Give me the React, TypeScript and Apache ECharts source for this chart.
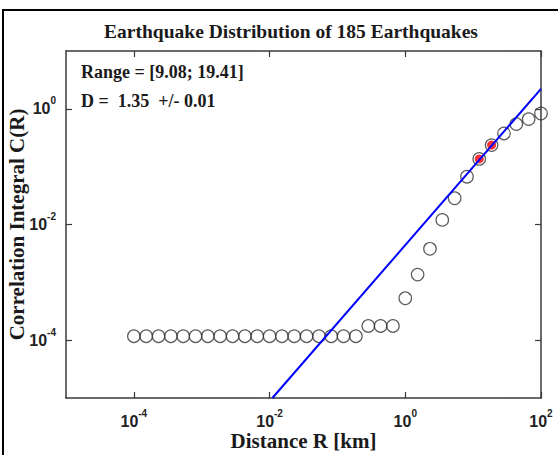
import React, { useEffect, useRef } from "react";
import * as echarts from "echarts";

// Distance R [km] (log-spaced bins)
const R_VALUES = [
  1.0e-4, 1.52e-4, 2.31e-4, 3.51e-4, 5.34e-4, 8.11e-4, 1.23e-3, 1.87e-3,
  2.85e-3, 4.33e-3, 6.58e-3, 1.0e-2, 1.52e-2, 2.31e-2, 3.51e-2, 5.34e-2,
  8.11e-2, 0.123, 0.187, 0.285, 0.433, 0.658, 1.0, 1.52, 2.31, 3.51, 5.34,
  8.11, 12.3, 18.7, 28.5, 43.3, 65.8, 100,
];
// Correlation integral C(R)
const C_VALUES = [
  1.17e-4, 1.17e-4, 1.17e-4, 1.17e-4, 1.17e-4, 1.17e-4, 1.17e-4, 1.17e-4,
  1.17e-4, 1.17e-4, 1.17e-4, 1.17e-4, 1.17e-4, 1.17e-4, 1.17e-4, 1.17e-4,
  1.17e-4, 1.17e-4, 1.17e-4, 1.76e-4, 1.76e-4, 1.76e-4, 5.3e-4, 1.36e-3,
  3.8e-3, 1.2e-2, 2.84e-2, 6.7e-2, 0.136, 0.236, 0.375, 0.545, 0.664, 0.83,
];
// Fitting range [km]
const FIT_RANGE = [9.08, 19.41];
// Fitted power-law line end points
const FIT_LINE_R = [0.011, 100];
const FIT_LINE_C = [1e-5, 2.21];
// Tick labels
const X_TICKS = [1e-4, 1e-2, 1, 100];
const Y_TICKS = [1e-4, 1e-2, 1];

const TITLE = "Earthquake Distribution of 185 Earthquakes";
const RANGE_TEXT = "Range = [9.08; 19.41]";
const D_TEXT = "D =  1.35  +/- 0.01";
const X_NAME = "Distance R [km]";
const Y_NAME = "Correlation Integral C(R)";

const SERIF = "'Liberation Serif', 'Times New Roman', serif";
const SANS = "'Liberation Sans', Arial, sans-serif";

const fmtPow = (v: number) => {
  const e = Math.round(Math.log10(v));
  return `{b|10}{s|${e}}`;
};

const tickRich = {
  b: { fontFamily: SANS, fontWeight: "bold", fontSize: 16, color: "#222" },
  s: {
    fontFamily: SANS,
    fontWeight: "bold",
    fontSize: 10,
    color: "#222",
    padding: [0, 0, 16, 0],
  },
};

const nameStyle = {
  fontFamily: SERIF,
  fontWeight: "bold",
  fontSize: 21,
  color: "#1a1a1a",
};

export default function App() {
  const ref = useRef<HTMLDivElement>(null);
  useEffect(() => {
    if (!ref.current) return;
    const chart = echarts.init(ref.current, undefined, { renderer: "svg" });
    const points = R_VALUES.map((r, i) => [r, C_VALUES[i]]);
    const fitPoints = points.filter(
      (p) => p[0] >= FIT_RANGE[0] && p[0] <= FIT_RANGE[1]
    );
    const line = FIT_LINE_R.map((r, i) => [r, FIT_LINE_C[i]]);
    const frame = { show: true, lineStyle: { color: "#3a3a3a", width: 1.5 } };
    const tick = {
      show: true,
      inside: true,
      length: 6,
      lineStyle: { color: "#3a3a3a", width: 1.2 },
    };
    chart.setOption({
      animation: false,
      backgroundColor: "#fff",
      title: {
        text: TITLE,
        left: 286,
        top: 16,
        textAlign: "center",
        textStyle: {
          fontFamily: SERIF,
          fontWeight: "bold",
          fontSize: 19.5,
          color: "#1a1a1a",
        },
      },
      grid: {
        left: 66,
        top: 51,
        width: 475,
        height: 347,
        containLabel: false,
        outerBoundsMode: "none",
      },
      xAxis: [
        {
          type: "log",
          logBase: 10,
          min: 1e-5,
          max: 100,
          position: "bottom",
          axisLine: frame,
          axisTick: { ...tick, customValues: X_TICKS },
          splitLine: { show: false },
          minorTick: { show: false },
          axisLabel: {
            customValues: X_TICKS,
            formatter: fmtPow,
            rich: tickRich,
            margin: 10,
          },
          name: X_NAME,
          nameLocation: "middle",
          nameGap: 32,
          nameMoveOverlap: false,
          nameTextStyle: nameStyle,
        },
        {
          type: "log",
          logBase: 10,
          min: 1e-5,
          max: 100,
          position: "top",
          axisLine: frame,
          axisTick: { ...tick, customValues: X_TICKS },
          splitLine: { show: false },
          axisLabel: { show: false },
        },
      ],
      yAxis: [
        {
          type: "log",
          logBase: 10,
          min: 1e-5,
          max: 10,
          position: "left",
          axisLine: frame,
          axisTick: { ...tick, customValues: Y_TICKS },
          splitLine: { show: false },
          axisLabel: {
            customValues: Y_TICKS,
            formatter: fmtPow,
            rich: tickRich,
            margin: 10,
          },
          name: Y_NAME,
          nameLocation: "middle",
          nameGap: 39,
          nameMoveOverlap: false,
          nameTextStyle: nameStyle,
        },
        {
          type: "log",
          logBase: 10,
          min: 1e-5,
          max: 10,
          position: "right",
          axisLine: frame,
          axisTick: { ...tick, customValues: Y_TICKS },
          splitLine: { show: false },
          axisLabel: { show: false },
        },
      ],
      graphic: [
        {
          type: "rect",
          shape: { x: 3, y: 10, width: 620, height: 520 },
          style: { fill: "none", stroke: "#000", lineWidth: 2 },
          silent: true,
        },
        {
          type: "text",
          x: 81,
          y: 72,
          style: {
            text: RANGE_TEXT,
            font: `bold 18px ${SERIF}`,
            fill: "#1a1a1a",
            textVerticalAlign: "middle",
          },
        },
        {
          type: "text",
          x: 81,
          y: 101,
          style: {
            text: D_TEXT,
            font: `bold 18px ${SERIF}`,
            fill: "#1a1a1a",
            textVerticalAlign: "middle",
          },
        },
      ],
      series: [
        {
          type: "scatter",
          data: fitPoints,
          symbol: "circle",
          symbolSize: 9,
          itemStyle: { color: "#ff0000" },
          z: 2,
        },
        {
          type: "scatter",
          data: points,
          symbol: "circle",
          symbolSize: 12.5,
          itemStyle: {
            color: "rgba(0,0,0,0)",
            borderColor: "#333",
            borderWidth: 1.2,
          },
          z: 3,
        },
        {
          type: "line",
          data: line,
          showSymbol: false,
          lineStyle: { color: "#0000ff", width: 2 },
          z: 4,
        },
      ],
    });
    return () => chart.dispose();
  }, []);
  return (
    <div
      ref={ref}
      style={{ position: "fixed", left: 0, top: 0, width: 558, height: 455 }}
    />
  );
}
